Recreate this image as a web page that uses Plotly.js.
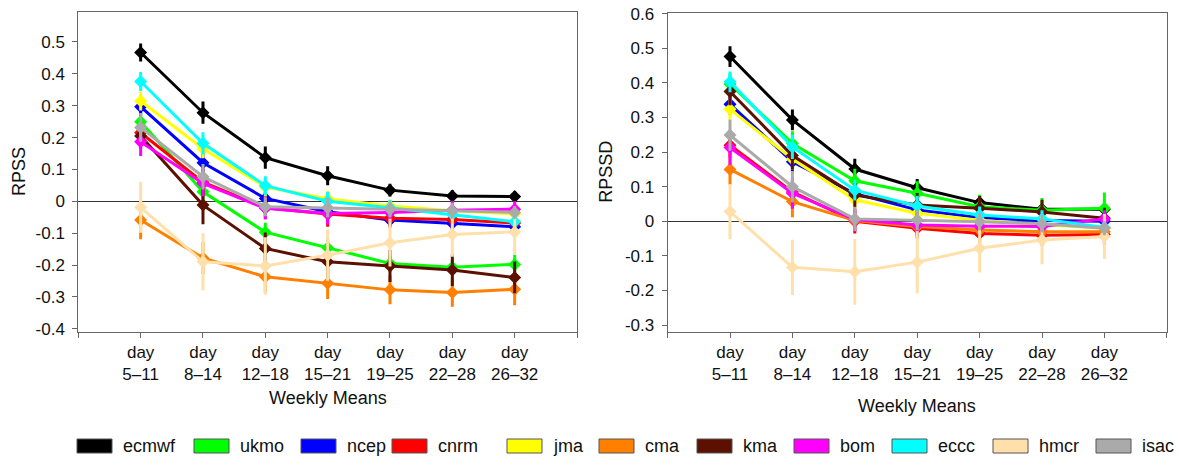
<!DOCTYPE html>
<html><head><meta charset="utf-8">
<script src="https://cdn.plot.ly/plotly-3.0.1.min.js"></script>
<style>html,body{margin:0;padding:0;background:#fff}#chart{width:1177px;height:459px}</style>
</head><body><div id="chart"></div>
<script>
// ---- categories / tick labels ----
const weekLabels = ['day<br>5–11','day<br>8–14','day<br>12–18','day<br>15–21','day<br>19–25','day<br>22–28','day<br>26–32'];
const models = ['ecmwf','ukmo','ncep','cnrm','jma','cma','kma','bom','eccc','hmcr','isac'];
const modelColors = ['#000000','#00FF00','#0000FF','#FF0000','#FFFF00','#FF8000','#5C1000','#FF00FF','#00FFFF','#FFE0AA','#AAAAAA'];
const rpssTicks = [-0.4,-0.3,-0.2,-0.1,0,0.1,0.2,0.3,0.4,0.5];
const rpssdTicks = [-0.3,-0.2,-0.1,0,0.1,0.2,0.3,0.4,0.5,0.6];

// ---- RPSS (left) ----
const rpssEcmwf = [0.467, 0.278, 0.137, 0.080, 0.035, 0.017, 0.015];
const rpssUkmo  = [0.250, 0.030, -0.097, -0.146, -0.195, -0.207, -0.198];
const rpssNcep  = [0.297, 0.121, 0.009, -0.033, -0.059, -0.069, -0.080];
const rpssCnrm  = [0.215, 0.060, -0.020, -0.040, -0.053, -0.057, -0.068];
const rpssJma   = [0.315, 0.165, 0.045, 0.008, -0.015, -0.030, -0.040];
const rpssCma   = [-0.059, -0.178, -0.237, -0.257, -0.278, -0.286, -0.276];
const rpssKma   = [0.205, -0.012, -0.148, -0.190, -0.203, -0.216, -0.239];
const rpssBom   = [0.187, 0.056, -0.022, -0.038, -0.035, -0.028, -0.025];
const rpssEccc  = [0.376, 0.182, 0.049, 0.000, -0.020, -0.041, -0.064];
const rpssHmcr  = [-0.019, -0.190, -0.203, -0.169, -0.130, -0.104, -0.096];
const rpssIsac  = [0.232, 0.077, -0.017, -0.020, -0.025, -0.030, -0.035];

const rpssErrEcmwf = [0.028,0.035,0.035,0.030,0.020,0.018,0.016];
const rpssErrUkmo  = [0.030,0.035,0.030,0.030,0.025,0.025,0.030];
const rpssErrNcep  = [0.030,0.030,0.025,0.025,0.020,0.020,0.020];
const rpssErrCnrm  = [0.035,0.040,0.035,0.040,0.030,0.030,0.030];
const rpssErrJma   = [0.030,0.030,0.030,0.025,0.020,0.020,0.020];
const rpssErrCma   = [0.060,0.050,0.050,0.050,0.045,0.045,0.050];
const rpssErrKma   = [0.040,0.060,0.050,0.050,0.050,0.050,0.050];
const rpssErrBom   = [0.045,0.040,0.035,0.035,0.030,0.030,0.025];
const rpssErrEccc  = [0.030,0.035,0.030,0.030,0.025,0.020,0.020];
const rpssErrHmcr  = [0.080,0.090,0.090,0.080,0.075,0.070,0.070];
const rpssErrIsac  = [0.045,0.040,0.030,0.030,0.025,0.025,0.020];

// ---- RPSSD (right) ----
const rpssdEcmwf = [0.476, 0.293, 0.151, 0.097, 0.054, 0.035, 0.035];
const rpssdUkmo  = [0.397, 0.225, 0.117, 0.081, 0.042, 0.032, 0.038];
const rpssdNcep  = [0.338, 0.172, 0.080, 0.033, 0.010, 0.002, 0.000];
const rpssdCnrm  = [0.220, 0.085, 0.000, -0.020, -0.035, -0.040, -0.038];
const rpssdJma   = [0.324, 0.180, 0.062, 0.023, 0.003, -0.010, -0.020];
const rpssdCma   = [0.150, 0.057, 0.002, -0.015, -0.025, -0.030, -0.030];
const rpssdKma   = [0.375, 0.190, 0.076, 0.047, 0.038, 0.027, 0.009];
const rpssdBom   = [0.213, 0.081, 0.005, -0.011, -0.014, -0.015, 0.007];
const rpssdEccc  = [0.403, 0.215, 0.090, 0.044, 0.018, 0.007, -0.018];
const rpssdHmcr  = [0.028, -0.133, -0.146, -0.118, -0.078, -0.054, -0.044];
const rpssdIsac  = [0.249, 0.100, 0.007, 0.004, -0.001, -0.007, -0.020];

const rpssdErrEcmwf = [0.030,0.030,0.030,0.025,0.020,0.015,0.015];
const rpssdErrUkmo  = [0.030,0.035,0.035,0.035,0.035,0.035,0.045];
const rpssdErrNcep  = [0.030,0.030,0.030,0.030,0.025,0.025,0.025];
const rpssdErrCnrm  = [0.035,0.035,0.035,0.030,0.030,0.030,0.030];
const rpssdErrJma   = [0.030,0.030,0.030,0.030,0.025,0.025,0.025];
const rpssdErrCma   = [0.045,0.045,0.030,0.030,0.030,0.030,0.030];
const rpssdErrKma   = [0.040,0.040,0.035,0.035,0.035,0.035,0.030];
const rpssdErrBom   = [0.050,0.045,0.035,0.030,0.030,0.025,0.025];
const rpssdErrEccc  = [0.030,0.035,0.030,0.030,0.025,0.025,0.020];
const rpssdErrHmcr  = [0.080,0.080,0.095,0.090,0.070,0.070,0.065];
const rpssdErrIsac  = [0.045,0.045,0.035,0.030,0.025,0.025,0.020];

const rpssSeries = [rpssEcmwf,rpssUkmo,rpssNcep,rpssCnrm,rpssJma,rpssCma,rpssKma,rpssBom,rpssEccc,rpssHmcr,rpssIsac];
const rpssErrs = [rpssErrEcmwf,rpssErrUkmo,rpssErrNcep,rpssErrCnrm,rpssErrJma,rpssErrCma,rpssErrKma,rpssErrBom,rpssErrEccc,rpssErrHmcr,rpssErrIsac];
const rpssdSeries = [rpssdEcmwf,rpssdUkmo,rpssdNcep,rpssdCnrm,rpssdJma,rpssdCma,rpssdKma,rpssdBom,rpssdEccc,rpssdHmcr,rpssdIsac];
const rpssdErrs = [rpssdErrEcmwf,rpssdErrUkmo,rpssdErrNcep,rpssdErrCnrm,rpssdErrJma,rpssdErrCma,rpssdErrKma,rpssdErrBom,rpssdErrEccc,rpssdErrHmcr,rpssdErrIsac];

const W = 1177, H = 459;
const FONT = 'Liberation Sans, Arial, Helvetica, sans-serif';
const xPos = weekLabels.map((_, i) => i + 1);

function makeTrace(i, ys, errs, xa, ya) {
  return {
    x: xPos, y: ys, xaxis: xa, yaxis: ya, name: models[i], showlegend: false,
    type: 'scatter', mode: 'lines+markers',
    line: {color: modelColors[i], width: 3},
    marker: {color: modelColors[i], symbol: 'diamond', size: 10},
    error_y: {type: 'data', array: errs, visible: true, color: modelColors[i], thickness: 3, width: 0},
    hoverinfo: 'x+y+name'
  };
}
const traces = [];
models.forEach((m, i) => traces.push(makeTrace(i, rpssSeries[i], rpssErrs[i], 'x', 'y')));
models.forEach((m, i) => traces.push(makeTrace(i, rpssdSeries[i], rpssdErrs[i], 'x2', 'y2')));

const fmt = v => (v === 0 ? '0' : (Math.round(v * 10) / 10).toString());
const xTickVals = [0,1,2,3,4,5,6,7,8];
const xTickText = [''].concat(weekLabels).concat(['']);

function xAxis(domain) {
  return {domain: domain, range: [0, 8], tickmode: 'array', tickvals: xTickVals, ticktext: xTickText,
    ticks: 'outside', ticklen: 5, tickwidth: 1, tickcolor: '#666', showline: true, linecolor: '#666', linewidth: 1,
    mirror: true, showgrid: false, zeroline: false, tickfont: {family: FONT, size: 17, color: '#111'}, fixedrange: true};
}
function yAxis(domain, range, ticks, anchor) {
  return {domain: domain, range: range, tickmode: 'array', tickvals: ticks, ticktext: ticks.map(fmt), anchor: anchor,
    ticks: 'outside', ticklen: 5, tickwidth: 1, tickcolor: '#666', showline: true, linecolor: '#666', linewidth: 1,
    mirror: true, showgrid: false, zeroline: true, zerolinecolor: '#333', zerolinewidth: 1, ticklabelstandoff: 4,
    tickfont: {family: FONT, size: 17, color: '#111'}, fixedrange: true};
}

// legend drawn as boxes + labels
const legendBoxLeft = [77, 194, 301, 392, 507, 599, 697, 794, 892, 993, 1096];
const shapes = [], annotations = [];
models.forEach((m, i) => {
  const x0 = legendBoxLeft[i];
  shapes.push({type: 'rect', xref: 'paper', yref: 'paper', x0: x0 / W, x1: (x0 + 35) / W,
    y0: 1 - 453 / H, y1: 1 - 439 / H, fillcolor: modelColors[i], line: {color: '#555', width: 1}});
  annotations.push({xref: 'paper', yref: 'paper', x: (x0 + 44) / W, y: 1 - 446 / H, xanchor: 'left', yanchor: 'middle',
    text: m, showarrow: false, font: {family: FONT, size: 18, color: '#111'}});
});
annotations.push({xref: 'paper', yref: 'paper', x: 327.6 / W, y: 1 - 398 / H, text: 'Weekly Means', showarrow: false,
  xanchor: 'center', yanchor: 'middle', font: {family: FONT, size: 18, color: '#111'}});
annotations.push({xref: 'paper', yref: 'paper', x: 917.2 / W, y: 1 - 406 / H, text: 'Weekly Means', showarrow: false,
  xanchor: 'center', yanchor: 'middle', font: {family: FONT, size: 18, color: '#111'}});
annotations.push({xref: 'paper', yref: 'paper', x: 19 / W, y: 1 - 172 / H, text: 'RPSS', showarrow: false, textangle: -90,
  xanchor: 'center', yanchor: 'middle', font: {family: FONT, size: 18, color: '#111'}});
annotations.push({xref: 'paper', yref: 'paper', x: 605.7 / W, y: 1 - 172 / H, text: 'RPSSD', showarrow: false, textangle: -90,
  xanchor: 'center', yanchor: 'middle', font: {family: FONT, size: 18, color: '#111'}});

const layout = {
  width: W, height: H, margin: {l: 0, r: 0, t: 0, b: 0}, paper_bgcolor: '#fff', plot_bgcolor: '#fff',
  showlegend: false,
  xaxis: xAxis([78.3 / W, 577 / W]),
  yaxis: yAxis([1 - 331.7 / H, 1 - 12.3 / H], [-0.4093, 0.5932], rpssTicks, 'x'),
  xaxis2: Object.assign(xAxis([667.6 / W, 1166.8 / W]), {anchor: 'y2'}),
  yaxis2: yAxis([1 - 331.7 / H, 1 - 13.3 / H], [-0.319, 0.601], rpssdTicks, 'x2'),
  shapes: shapes, annotations: annotations
};
layout.xaxis.anchor = 'y';
Plotly.newPlot('chart', traces, layout, {displayModeBar: false, staticPlot: true});
</script></body></html>
